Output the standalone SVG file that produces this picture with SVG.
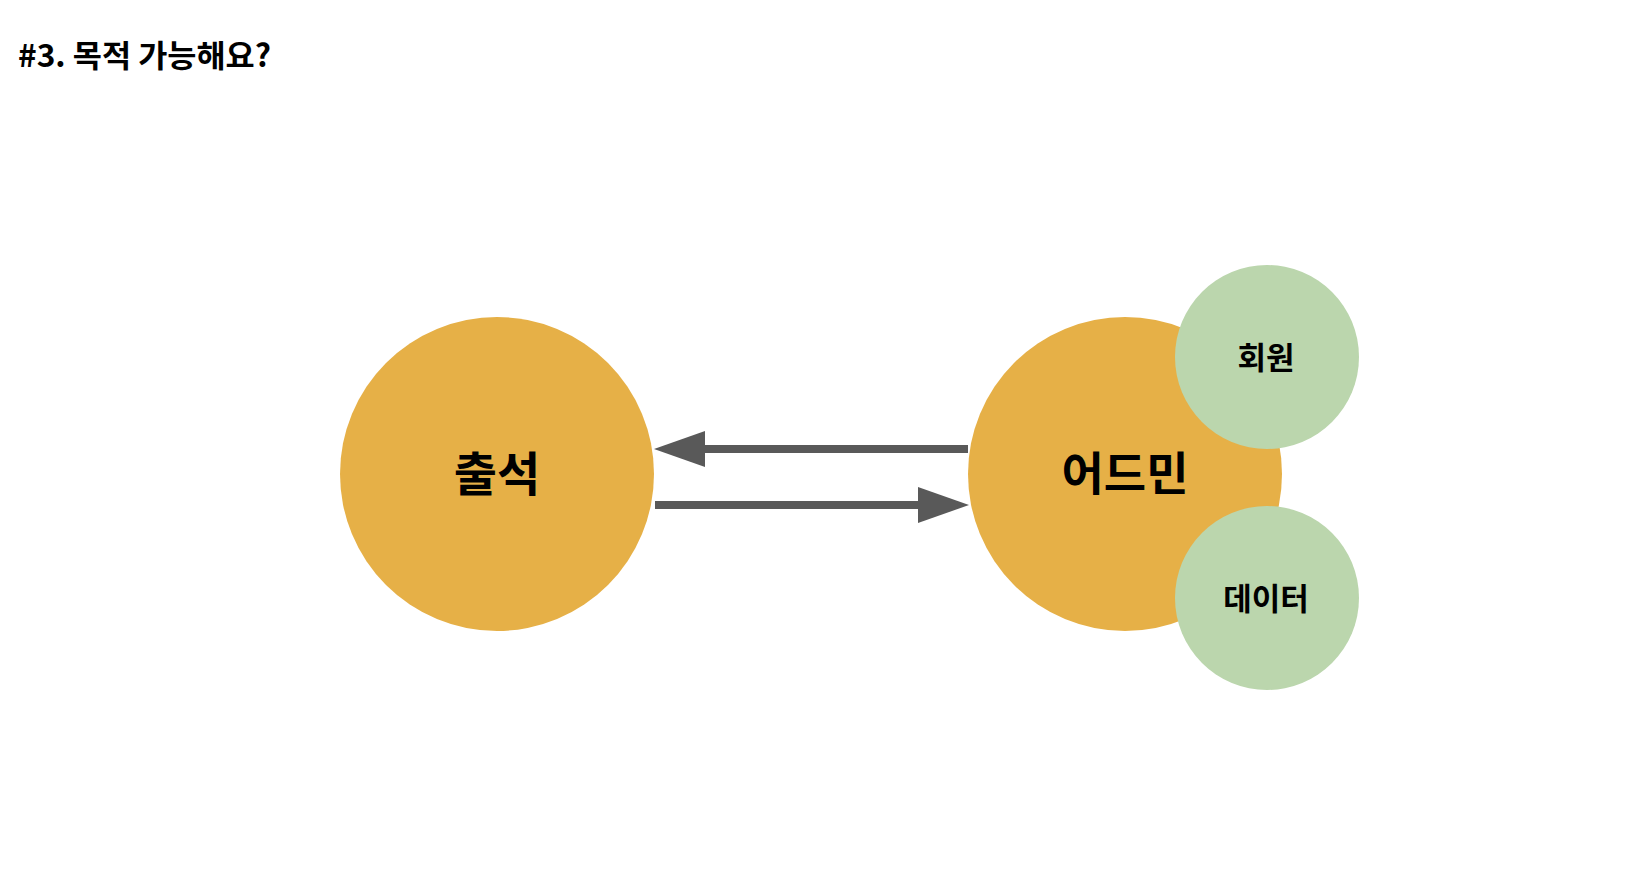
<svg xmlns="http://www.w3.org/2000/svg" width="1652" height="880" viewBox="0 0 1652 880">
<defs>
<style>
.t{font-family:"Noto Sans CJK KR","Noto Sans",sans-serif;font-weight:bold;fill:#000;text-anchor:middle;dominant-baseline:central}
.main{fill:#E6B047}
.sub{fill:#BBD6AD}
.conn{stroke:#595959;stroke-width:8;fill:none}
.head{fill:#595959}
</style>
</defs>
<rect width="1652" height="880" fill="#FFFFFF"/>
<text x="18" y="67" style="font-family:'Noto Sans CJK KR','Noto Sans',sans-serif;font-weight:bold;font-size:31px;fill:#000" textLength="253" lengthAdjust="spacingAndGlyphs">#3. 목적 가능해요?</text>
<g id="node-attendance">
<circle class="main" cx="497" cy="474" r="157"/>
<text class="t" x="497" y="470" font-size="47">출석</text>
</g>
<g id="node-admin">
<circle class="main" cx="1125" cy="474" r="157"/>
<text class="t" x="1125" y="470" font-size="46">어드민</text>
</g>
<g id="node-member">
<circle class="sub" cx="1267" cy="357" r="92"/>
<text class="t" x="1266" y="355" font-size="31">회원</text>
</g>
<g id="node-data">
<circle class="sub" cx="1267" cy="598" r="92"/>
<text class="t" x="1266" y="596" font-size="31">데이터</text>
</g>
<g id="connectors">
<line class="conn" x1="968" y1="449" x2="700" y2="449"/>
<polygon class="head" points="654,449 705,431 705,467"/>
<line class="conn" x1="655" y1="505" x2="922" y2="505"/>
<polygon class="head" points="969,505 918,487 918,523"/>
</g>
</svg>
